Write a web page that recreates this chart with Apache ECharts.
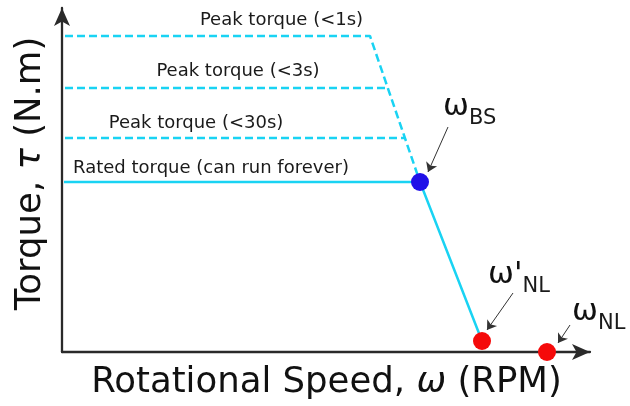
<!DOCTYPE html>
<html><head><meta charset="utf-8">
<script src="https://cdn.jsdelivr.net/npm/echarts@6/dist/echarts.min.js"></script>
<style>html,body{margin:0;padding:0;background:#fff}#c{width:630px;height:406px}</style>
</head><body><div id="c"></div>
<script>
// Conceptual torque-speed diagram (no numeric ticks); units are arbitrary.
const speedMax = 528;
const torqueMax = 344;

const peak1sSpeed = [3, 308, 358];
const peak1sTorque = [316, 316, 170];
const peak3sSpeed = [3, 326];
const peak3sTorque = [264, 264];
const peak30sSpeed = [3, 343];
const peak30sTorque = [214, 214];
const ratedSpeed = [2, 358, 420];
const ratedTorque = [170, 170, 11];

const pointSpeed = [358, 420, 485];
const pointTorque = [170, 11, 0];
const pointColors = ['#2010e8', '#f50a0a', '#f50a0a'];

const pointLabels = ['{w|ω}{s|BS}', "{w|ω'}{s|NL}", '{w|ω}{s|NL}'];
const pointLabelSpeed = [381, 426, 510];
const pointLabelTorque = [235, 67, 30];

const arrowFromSpeed = [386, 451, 508];
const arrowFromTorque = [225, 59, 27];
const arrowToSpeed = [366, 425, 496];
const arrowToTorque = [180, 22, 9];

const curveLabels = ['Peak torque (<1s)', 'Peak torque (<3s)', 'Peak torque (<30s)', 'Rated torque (can run forever)'];
const curveLabelSpeed = [219.5, 176, 134, 149];
const curveLabelTorque = [332, 280.5, 228.5, 183.5];

const zip = (a, b) => a.map((v, i) => [v, b[i]]);
const cyan = '#19d3f3';
const dashed = { color: cyan, width: 2.5, type: [8, 4] };
const FONT = 'DejaVu Sans';

const chart = echarts.init(document.getElementById('c'), null, { renderer: 'canvas' });
chart.setOption({
  animation: false,
  backgroundColor: '#fff',
  grid: { left: 62, right: 40, top: 8, bottom: 54 },
  xAxis: {
    type: 'value', min: 0, max: speedMax,
    name: 'Rotational Speed, {i|ω} (RPM)', nameLocation: 'middle', nameGap: 13,
    nameTextStyle: { fontFamily: FONT, fontSize: 35.5, color: '#111', padding: [0, 0, 0, 1],
      rich: { i: { fontFamily: FONT, fontSize: 35.5, fontStyle: 'italic', color: '#111' } } },
    axisLine: { lineStyle: { color: '#2a2a2a', width: 2.3 }, symbol: ['none', 'arrow'], symbolSize: [12, 18] },
    axisTick: { show: false }, axisLabel: { show: false }, splitLine: { show: false }
  },
  yAxis: {
    type: 'value', min: 0, max: torqueMax,
    name: 'Torque, {i|τ} (N.m)', nameLocation: 'middle', nameGap: 13, nameRotate: 90,
    nameTextStyle: { fontFamily: FONT, fontSize: 35.5, color: '#111', padding: [0, 0, 0, 13],
      rich: { i: { fontFamily: FONT, fontSize: 35.5, fontStyle: 'italic', color: '#111' } } },
    axisLine: { lineStyle: { color: '#2a2a2a', width: 2.3 }, symbol: ['none', 'arrow'], symbolSize: [12, 18] },
    axisTick: { show: false }, axisLabel: { show: false }, splitLine: { show: false }
  },
  series: [
    { type: 'line', data: zip(peak1sSpeed, peak1sTorque), symbol: 'none', lineStyle: dashed, z: 3 },
    { type: 'line', data: zip(peak3sSpeed, peak3sTorque), symbol: 'none', lineStyle: dashed, z: 3 },
    { type: 'line', data: zip(peak30sSpeed, peak30sTorque), symbol: 'none', lineStyle: dashed, z: 3 },
    { type: 'line', data: zip(ratedSpeed, ratedTorque), symbol: 'none', lineStyle: { color: cyan, width: 2.5 }, z: 4 },
    {
      type: 'scatter', symbolSize: 1, itemStyle: { color: 'rgba(0,0,0,0)', opacity: 1 }, z: 5, silent: true,
      data: curveLabels.map((t, i) => ({ value: [curveLabelSpeed[i], curveLabelTorque[i]], name: t })),
      label: { show: true, position: 'inside', formatter: p => p.name, fontFamily: FONT, fontSize: 18, color: '#1a1a1a',
        align: 'center', verticalAlign: 'middle' }
    },
    {
      type: 'scatter', symbolSize: 1, itemStyle: { color: 'rgba(0,0,0,0)', opacity: 1 }, z: 5, silent: true,
      data: pointLabels.map((t, i) => ({ value: [pointLabelSpeed[i], pointLabelTorque[i]], name: t })),
      label: { show: true, position: 'inside', formatter: p => p.name, align: 'left', verticalAlign: 'bottom',
        offset: [0, 12],
        rich: {
          w: { fontFamily: FONT, fontSize: 31, color: '#111', verticalAlign: 'bottom', padding: [0, 0, 7, 0] },
          s: { fontFamily: FONT, fontSize: 21, color: '#1a1a1a', verticalAlign: 'bottom' }
        } },
      markLine: {
        silent: true, symbol: ['none', 'arrow'], symbolSize: 9,
        lineStyle: { color: '#333', width: 1, type: 'solid' }, label: { show: false },
        data: arrowFromSpeed.map((s, i) => [
          { coord: [s, arrowFromTorque[i]] },
          { coord: [arrowToSpeed[i], arrowToTorque[i]] }
        ])
      }
    },
    {
      type: 'scatter', symbolSize: 18, z: 6,
      itemStyle: { opacity: 1 },
      data: pointSpeed.map((s, i) => ({ value: [s, pointTorque[i]], itemStyle: { color: pointColors[i], opacity: 1 } }))
    }
  ]
});
</script></body></html>
